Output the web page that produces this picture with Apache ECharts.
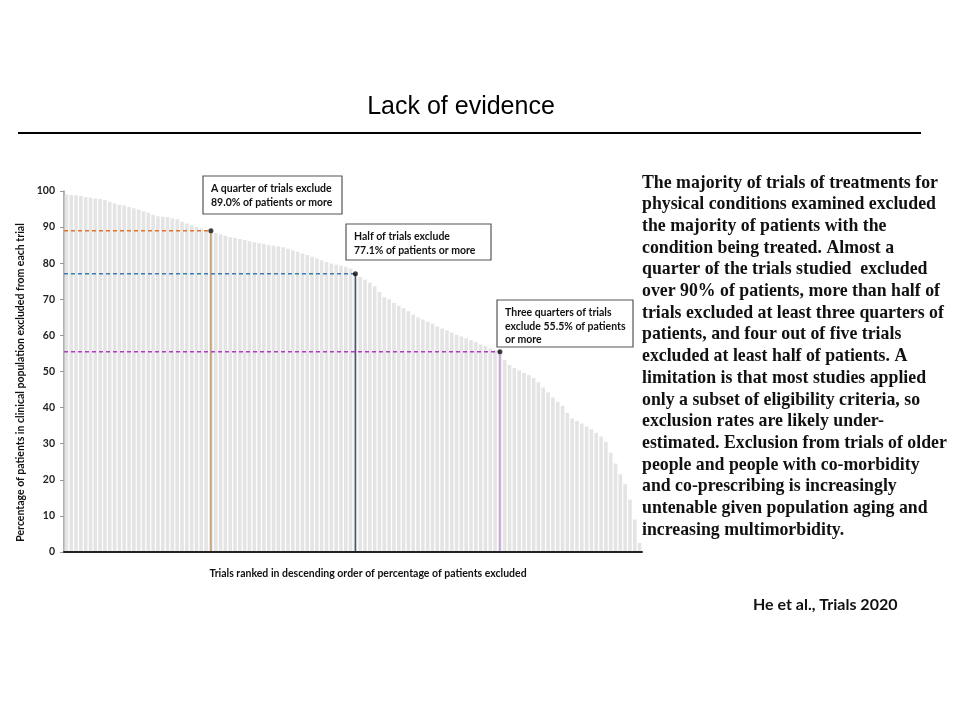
<!DOCTYPE html>
<html><head><meta charset="utf-8">
<script src="https://cdn.jsdelivr.net/npm/echarts@6/dist/echarts.min.js"></script>
<style>html,body{margin:0;padding:0;background:#fff}#c{width:960px;height:720px}</style>
</head><body><div id="c"></div>
<script>
// Percentage of patients excluded, trials ranked in descending order
const exclusion = [
99.0,98.9,98.8,98.6,98.3,98.1,97.9,97.8,97.5,97.0,
96.6,96.2,96.0,95.6,95.2,94.8,94.4,94.0,93.4,93.0,
92.9,92.8,92.4,92.2,91.5,91.0,90.5,90.0,89.6,89.2,
89.0,88.4,88.0,87.6,87.2,87.0,86.7,86.4,86.1,85.8,
85.5,85.3,85.0,84.8,84.6,84.4,84.0,83.6,83.2,82.7,
82.3,81.8,81.4,80.8,80.3,79.9,79.6,79.3,79.0,78.5,
77.1,76.2,75.4,74.6,73.6,72.0,70.6,70.0,69.0,68.2,
67.5,66.7,65.8,65.0,64.4,63.8,63.2,62.5,61.9,61.4,
60.8,60.2,59.7,59.2,58.7,58.2,57.5,57.0,56.4,56.0,
55.5,53.2,51.8,51.0,50.3,49.6,49.0,48.2,47.0,45.6,
44.2,42.8,41.6,40.5,38.5,37.0,36.3,35.6,34.8,34.0,
33.0,32.0,30.5,27.5,24.5,21.5,18.8,14.5,9.0,2.5
];
const trials = exclusion.map((_, i) => 'Trial ' + (i + 1));
// quartile markers: rank index and threshold
const quartileRank = [30, 60, 90];
const quartileValue = [89.0, 77.1, 55.5];
const quartileText = [
  ['A quarter of trials exclude', '89.0% of patients or more'],
  ['Half of trials exclude', '77.1% of patients or more'],
  ['Three quarters of trials', 'exclude 55.5% of patients', 'or more']
];
const yTicks = [0,10,20,30,40,50,60,70,80,90,100];
const paragraph = [
 'The majority of trials of treatments for',
 'physical conditions examined excluded',
 'the majority of patients with the',
 'condition being treated. Almost a',
 'quarter of the trials studied  excluded',
 'over 90% of patients, more than half of',
 'trials excluded at least three quarters of',
 'patients, and four out of five trials',
 'excluded at least half of patients. A',
 'limitation is that most studies applied',
 'only a subset of eligibility criteria, so',
 'exclusion rates are likely under-',
 'estimated. Exclusion from trials of older',
 'people and people with co-morbidity',
 'and co-prescribing is increasingly',
 'untenable given population aging and',
 'increasing multimorbidity.'
];

const hColors = ['#e0742e', '#3c7bb5', '#b23ac4'];
const vColors = ['#c89868', '#46566f', '#cc98dc'];

const chart = echarts.init(document.getElementById('c'));
const N = exclusion.length;
const series = [{
  type: 'bar', data: exclusion, xAxisIndex: 0, yAxisIndex: 0,
  barCategoryGap: '25%', itemStyle: { color: '#e4e4e4' }, silent: true, z: 1
}];
quartileRank.forEach((r, k) => {
  const xc = r + 0.5;
  series.push({
    type: 'line', xAxisIndex: 1, yAxisIndex: 0, symbol: 'none', silent: true, z: 3,
    data: [[0, quartileValue[k]], [xc, quartileValue[k]]],
    lineStyle: { color: hColors[k], width: 1.5, type: [4, 3] }
  });
  series.push({
    type: 'line', xAxisIndex: 1, yAxisIndex: 0, symbol: 'none', silent: true, z: 3,
    data: [[xc, quartileValue[k]], [xc, 0]],
    lineStyle: { color: vColors[k], width: 1.5 }
  });
  series.push({
    type: 'scatter', xAxisIndex: 1, yAxisIndex: 0, silent: true, z: 4,
    data: [[xc, quartileValue[k]]], symbolSize: 5, itemStyle: { color: '#111' }
  });
});

const boxes = [
  { x: 203, y: 176, w: 139, h: 38 },
  { x: 346, y: 224, w: 145, h: 36 },
  { x: 497, y: 300, w: 136, h: 47 }
];
const graphic = [
  { type: 'text', x: 461, y: 95, style: { text: 'Lack of evidence', align: 'center', font: '500 25px "Liberation Sans", Arial, sans-serif', fill: '#000' } },
  { type: 'rect', shape: { x: 18, y: 132, width: 903, height: 2 }, style: { fill: '#000' } },
  { type: 'text', x: 753, y: 597, style: { text: 'He et al., Trials 2020', font: 'bold 16px Lato, sans-serif', fill: '#111' } }
];
boxes.forEach((b, k) => {
  graphic.push({ type: 'rect', shape: { x: b.x, y: b.y, width: b.w, height: b.h }, style: { fill: '#fff', stroke: '#555', lineWidth: 1.2 }, z: 10 });
  graphic.push({ type: 'text', x: b.x + 8, y: b.y + 6, z: 11,
    style: { text: quartileText[k].join('\n'), font: 'bold 10.5px Lato, sans-serif', lineHeight: 13.5, fill: '#111' } });
});
paragraph.forEach((line, i) => {
  graphic.push({ type: 'text', x: 642, y: 174 + i * 21.7,
    style: { text: line, font: 'bold 17.8px "Liberation Serif", "DejaVu Serif", serif', fill: '#111' } });
});

chart.setOption({
  animation: false,
  grid: { left: 64, right: 318, top: 191, bottom: 168 },
  xAxis: [
    { type: 'category', data: trials, axisLabel: { show: false }, axisTick: { show: false }, z: 5,
      axisLine: { lineStyle: { color: '#222', width: 2 } },
      name: 'Trials ranked in descending order of percentage of patients excluded',
      nameLocation: 'middle', nameGap: 16,
      nameTextStyle: { fontFamily: 'Lato', fontWeight: 'bold', fontSize: 10.5, color: '#111', padding: [0, 0, 0, 30] } },
    { type: 'value', min: 0, max: N, show: false }
  ],
  yAxis: [{
    type: 'value', min: 0, max: 100, interval: 10,
    splitLine: { show: false },
    axisLine: { show: true, lineStyle: { color: '#999', width: 1.5 } },
    axisTick: { show: true, length: 4, lineStyle: { color: '#999' } },
    axisLabel: { fontFamily: 'Lato', fontWeight: 'bold', fontSize: 10.5, color: '#222', margin: 9,
      formatter: v => yTicks.includes(v) ? String(v) : '' },
    name: 'Percentage of patients in clinical population excluded from each trial',
    nameLocation: 'middle', nameGap: 32, nameRotate: 90,
    nameTextStyle: { fontFamily: 'Lato', fontWeight: 'bold', fontSize: 10.5, color: '#111', padding: [0, 22, 0, 0] }
  }],
  series: series,
  graphic: graphic
});
</script></body></html>
